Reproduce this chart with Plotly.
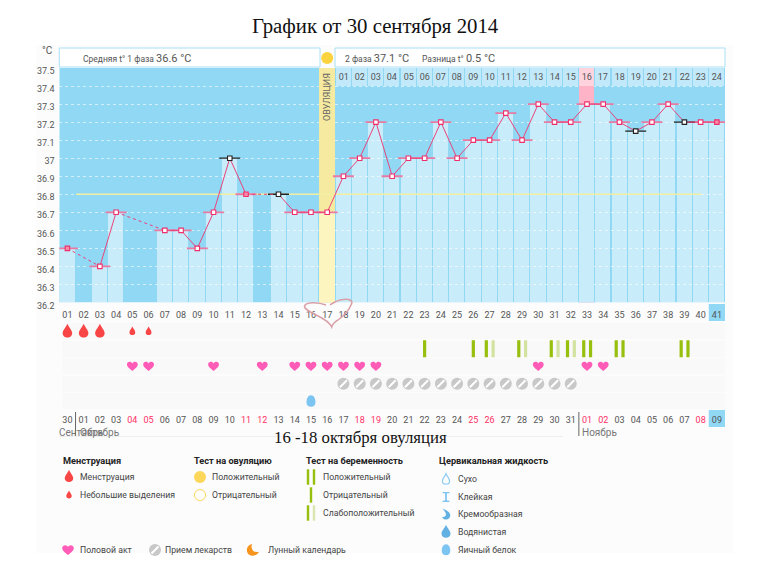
import plotly.graph_objects as go

# ---------- data ----------
days = list(range(1, 42))
temps = [36.5, None, 36.4, 36.7, None, None, 36.6, 36.6, 36.5, 36.7, 37.0, 36.8, None, 36.8, 36.7,
         36.7, 36.7, 36.9, 37.0, 37.2, 36.9, 37.0, 37.0, 37.2, 37.0, 37.1, 37.1, 37.25, 37.1, 37.3,
         37.2, 37.2, 37.3, 37.3, 37.2, 37.15, 37.2, 37.3, 37.2, 37.2, 37.2]
black_days = [11, 14, 36, 39]
filled_days = [1, 12, 41]
ovulation_day = 17
peak_day = 33
mean_level = 36.8
mean_from, mean_to = 1.53, 40.05
phase2_days = list(range(18, 42))
phase2_labels = [f"{i:02d}" for i in range(1, 25)]
day_labels = [f"{d:02d}" for d in days]
date_labels = ["30"] + [f"{d:02d}" for d in range(1, 32)] + [f"{d:02d}" for d in range(1, 10)]
red_dates = [5, 6, 12, 13, 19, 20, 26, 27, 33, 34, 40]
y_ticks = [36.2, 36.3, 36.4, 36.5, 36.6, 36.7, 36.8, 36.9, 37.0, 37.1, 37.2, 37.3, 37.4, 37.5]
y_labels = ["36.2", "36.3", "36.4", "36.5", "36.6", "36.7", "36.8", "36.9", "37", "37.1", "37.2", "37.3", "37.4", "37.5"]
menses_days = [1, 2, 3]
spotting_days = [5, 6]
test_single = [23, 26]
test_weak = [27, 29, 31, 32]
test_pair = [33, 35, 39]
sex_days = [5, 6, 10, 13, 15, 16, 17, 18, 19, 20, 30, 33, 34]
pill_days = list(range(18, 33))
egg_days = [16]
ROW_MENSES, ROW_TEST, ROW_SEX, ROW_PILL, ROW_FLUID = 1, 2, 3, 4, 5

# ---------- geometry / style ----------
W, H = 770, 565
BLUE = "#91d8f5"
BORDER = "#a9e0f6"
CELL = "rgba(255,255,255,0.51)"
PINK = "#e8447a"
TXT = "#555555"
SANS = "Roboto"
L, R = 59.3, 725.0
px = lambda v: v / W
py = lambda v: 1 - v / H

# ---------- glyph paths (pixels relative to the anchor, y up) ----------
def scaled(path, s):
    out = []
    for tok in path.split():
        try:
            out.append(f"{float(tok) * s:.2f}")
        except ValueError:
            out.append(tok)
    return " ".join(out)

DROP = "M 0 8 C 1.5 4 5 1.5 5 -2 C 5 -5 2.5 -6.5 0 -6.5 C -2.5 -6.5 -5 -5 -5 -2 C -5 1.5 -1.5 4 0 8 Z"
HEART = "M 0 -7 C -4 -3.5 -8 -1 -8 2.5 C -8 5.5 -5.5 6.5 -4 6.5 C -2 6.5 -0.8 5.5 0 4 C 0.8 5.5 2 6.5 4 6.5 C 5.5 6.5 8 5.5 8 2.5 C 8 -1 4 -3.5 0 -7 Z"
EGG = "M 0 6 C 3 6 4.5 2.5 4.5 -1 C 4.5 -4 2.5 -5.5 0 -5.5 C -2.5 -5.5 -4.5 -4 -4.5 -1 C -4.5 2.5 -3 6 0 6 Z"
MOON = "M -1 7 C -6 6 -8 2 -7 -2 C -6 -6 -1 -8 3 -6 C 5 -5 6 -4 7 -2 C 4 -3 0 -2 -1 1 C -2 3 -2 5 -1 7 Z"
SAND = "M -4 6 L 4 6 L 4 4.5 L 1 4.5 L 1 -4 L 4 -4.5 L 4 -6 L -4 -6 L -4 -4.5 L -1 -4 L -1 4.5 L -4 4.5 Z"
CREAM = "M -4 7 C 0 5 5 3 5 -1 C 5 -4 3 -6 0 -6 C -2 -6 -4 -5 -4.5 -3 C -2 -3 0 -2 0 0 C 0 3 -3 5 -4 7 Z"

def glyph(path, x, y, color, xref="x2", yref="y2", s=1.0, outline=None):
    d = dict(type="path", path=scaled(path, s), xref=xref, yref=yref,
             xsizemode="pixel", ysizemode="pixel", xanchor=x, yanchor=y,
             fillcolor=color if outline is None else "rgba(0,0,0,0)",
             line=dict(width=0 if outline is None else 1.2, color=outline or color))
    return d

fig = go.Figure()

# ---------- chart bars ----------
fig.add_bar(x=[ovulation_day], y=[37.5], width=1.0, marker=dict(color="#f5ea9f", line_width=0), yaxis="y", xaxis="x")
fig.add_bar(x=[peak_day], y=[37.4], width=0.94, marker=dict(color="#ffb3c6", line_width=0))
bar_days = [d for d, t in zip(days, temps) if t is not None]
bar_vals = [t for t in temps if t is not None]
bar_cols = ["#fdf5c0" if d == ovulation_day else ("#c9ecfb" if d == peak_day else CELL) for d in bar_days]
fig.add_bar(x=bar_days, y=bar_vals, width=[1.0 if d == ovulation_day else 0.93 for d in bar_days],
            marker=dict(color=bar_cols, line_width=0))
# header cells for second-phase day numbers
fig.add_bar(x=phase2_days, y=[0.1] * len(phase2_days), base=37.4, width=0.93,
            marker=dict(color=["#ffd3de" if d == peak_day else "#c2e9fa" for d in phase2_days], line_width=0),
            text=phase2_labels, textposition="inside", insidetextanchor="middle", textangle=0,
            insidetextfont=dict(family=SANS, size=9, color=TXT), constraintext="none")

# mean level
fig.add_scatter(x=[mean_from, mean_to], y=[mean_level, mean_level], mode="lines",
                line=dict(color="#f3eea0", width=1.5))

# caps
pink_days = [d for d, t in zip(days, temps) if t is not None and d not in black_days]
pink_vals = [temps[d - 1] for d in pink_days]
blk_vals = [temps[d - 1] for d in black_days]
fig.add_scatter(x=pink_days, y=pink_vals, mode="markers",
                marker=dict(symbol="line-ew", size=15, line=dict(width=1.8, color="#e97ba2")))
fig.add_scatter(x=black_days, y=blk_vals, mode="markers",
                marker=dict(symbol="line-ew", size=15, line=dict(width=1.3, color="#222222")))

# solid segments + dashed bridges
fig.add_scatter(x=days, y=temps, mode="lines", connectgaps=False, line=dict(color=PINK, width=1))
gap_x, gap_y, last = [], [], None
for d, t in zip(days, temps):
    if t is None:
        continue
    if last is not None and d - last > 1:
        gap_x += [last, d, None]
        gap_y += [temps[last - 1], t, None]
    last = d
fig.add_scatter(x=gap_x, y=gap_y, mode="lines", line=dict(color=PINK, width=1, dash="3px,3px"))

# points
fig.add_scatter(x=pink_days, y=pink_vals, mode="markers",
                marker=dict(symbol="square", size=4.5,
                            color=["#f58aa8" if d in filled_days else "white" for d in pink_days],
                            line=dict(width=1.1, color="#ee2f6b")))
fig.add_scatter(x=black_days, y=blk_vals, mode="markers",
                marker=dict(symbol="square", size=4.5, color="white", line=dict(width=1.1, color="#222222")))

# ---------- rows beneath the chart ----------
row_kw = dict(xaxis="x2", yaxis="y2", mode="markers")
fig.add_scatter(x=pill_days, y=[ROW_PILL] * len(pill_days), marker=dict(symbol="circle", size=12, color="#c8c8c8"), **row_kw)
fig.add_scatter(x=pill_days, y=[ROW_PILL] * len(pill_days),
                marker=dict(symbol="line-ne", size=7, line=dict(width=2, color="white")), **row_kw)
dark_x = test_single + [d - 0.2 for d in test_weak + test_pair] + [d + 0.22 for d in test_pair]
fig.add_scatter(x=dark_x, y=[ROW_TEST] * len(dark_x),
                marker=dict(symbol="line-ns", size=12, line=dict(width=3.2, color="#97bf0d")), **row_kw)
light_x = [d + 0.22 for d in test_weak]
fig.add_scatter(x=light_x, y=[ROW_TEST] * len(light_x),
                marker=dict(symbol="line-ns", size=12, line=dict(width=3.2, color="#d2e3a0")), **row_kw)

shapes = []
# page wash, plot background
shapes.append(dict(type="rect", xref="paper", yref="paper", x0=px(36), x1=px(733), y0=py(45), y1=py(553),
                   fillcolor="#fcfcfc", line_width=0, layer="below"))
for r in range(1, 6):
    shapes.append(dict(type="rect", xref="x2", yref="y2", x0=0.7, x1=41.5, y0=r - 0.46, y1=r + 0.46,
                       fillcolor="#f9f9f9", line_width=0, layer="below"))
shapes.append(dict(type="rect", xref="x", yref="y", x0=0.5, x1=41.5, y0=36.2, y1=37.5,
                   fillcolor=BLUE, line_width=0, layer="below"))
# blue cells behind 41 / 09
shapes.append(dict(type="rect", xref="x", yref="paper", x0=40.5, x1=41.5, y0=py(321), y1=py(304),
                   fillcolor=BLUE, line_width=0, layer="below"))
shapes.append(dict(type="rect", xref="x", yref="paper", x0=40.5, x1=41.5, y0=py(427), y1=py(410),
                   fillcolor=BLUE, line_width=0, layer="below"))
# header boxes
for x0, x1 in [(L, 320), (335, R)]:
    shapes.append(dict(type="rect", xref="paper", yref="paper", x0=px(x0), x1=px(x1), y0=py(67), y1=py(48),
                       fillcolor="white", line=dict(width=1, color=BORDER), layer="below"))
# month separators & rule
for d in (1.5, 32.5):
    shapes.append(dict(type="line", xref="x", yref="paper", x0=d, x1=d, y0=py(436), y1=py(412),
                       line=dict(width=1, color="#666666")))
shapes.append(dict(type="line", xref="paper", yref="paper", x0=px(60), x1=px(563), y0=py(436.5), y1=py(436.5),
                   line=dict(width=1, color="#efefef"), layer="below"))
# row glyphs
for d in menses_days:
    shapes.append(glyph(DROP, d, ROW_MENSES, "#f84545", s=0.95))
for d in spotting_days:
    shapes.append(glyph(DROP, d, ROW_MENSES, "#f84545", s=0.58))
for d in sex_days:
    shapes.append(glyph(HEART, d, ROW_SEX, "#ff5cb8", s=0.68))
for d in egg_days:
    shapes.append(glyph(EGG, d, ROW_FLUID, "#7cc4f2"))
# ovulation sun in the header gap
shapes.append(dict(type="circle", xref="x", yref="paper", xsizemode="pixel", xanchor=ovulation_day,
                   x0=-6, x1=6, ysizemode="pixel", yanchor=py(58), y0=-6, y1=6,
                   fillcolor="#fbd33f", line_width=0))
# hand-drawn heart
heart_segments = [
    [(333, 303), (338, 300), (343, 299.5)],
    [(350, 298.5), (353, 301), (351.5, 304)],
    [(349.5, 309), (345, 315), (338, 320)],
    [(335, 322), (332.5, 324), (331.7, 327)],
    [(329, 321), (322, 318), (316, 315)],
    [(310, 312), (304, 309), (304.5, 306)],
    [(306, 302.5), (312, 302.5), (317, 303)],
    [(320, 303.2), (323, 304), (326, 305)],
]
heart_path = f"M {px(330):.5f},{py(305):.5f} " + " ".join(
    "C " + " ".join(f"{px(a):.5f},{py(b):.5f}" for a, b in seg) for seg in heart_segments)
shapes.append(dict(type="path", xref="paper", yref="paper", path=heart_path,
                   line=dict(width=1.5, color="#d9a0a8")))

# ---------- legend glyphs, on a full-page pixel axis ----------
leg = dict(xref="x3", yref="y3")
shapes += [
    glyph(DROP, 69, 476.5, "#f84545", s=0.85, **leg),
    glyph(DROP, 69, 495, "#f84545", s=0.55, **leg),
    glyph(HEART, 68, 550, "#ff5cb8", s=0.72, **leg),
    glyph(MOON, 253, 550, "#f6941d", s=0.85, **leg),
    glyph(DROP, 446, 479.5, "#8fcdf5", s=0.72, outline="#8fcdf5", **leg),
    glyph(SAND, 446, 497, "#7cc4f2", s=0.85, **leg),
    glyph(CREAM, 446, 514.5, "#63b1e3", s=0.85, **leg),
    glyph(DROP, 446, 532, "#63b1e3", s=0.9, **leg),
    glyph(EGG, 446, 550, "#7cc4f2", s=0.95, **leg),
]
fig.add_scatter(x=[200], y=[477], xaxis="x3", yaxis="y3", mode="markers",
                marker=dict(symbol="circle", size=12, color="#fdd75a", line=dict(width=0)))
fig.add_scatter(x=[200], y=[495], xaxis="x3", yaxis="y3", mode="markers",
                marker=dict(symbol="circle", size=11, color="white", line=dict(width=1, color="#fbd75a")))
fig.add_scatter(x=[155], y=[550], xaxis="x3", yaxis="y3", mode="markers",
                marker=dict(symbol="circle", size=12, color="#c8c8c8"))
fig.add_scatter(x=[155], y=[550], xaxis="x3", yaxis="y3", mode="markers",
                marker=dict(symbol="line-ne", size=7, line=dict(width=2, color="white")))
leg_dark = [(308, 477), (314, 477), (311, 495), (308, 513)]
fig.add_scatter(x=[p[0] for p in leg_dark], y=[p[1] for p in leg_dark], xaxis="x3", yaxis="y3", mode="markers",
                marker=dict(symbol="line-ns", size=11, line=dict(width=2.4, color="#97bf0d")))
fig.add_scatter(x=[314], y=[513], xaxis="x3", yaxis="y3", mode="markers",
                marker=dict(symbol="line-ns", size=11, line=dict(width=2.4, color="#d9e7ae")))

# ---------- text ----------
def note(x, y, text, size=8.7, color="#444444", family=SANS, anchor="left", angle=0):
    x = x - 1.5 if anchor == "left" else x
    return dict(xref="paper", yref="paper", x=px(x), y=py(y), text=text, showarrow=False, xanchor=anchor,
                yanchor="middle", textangle=angle, borderpad=0, font=dict(family=family, size=size, color=color))

big = lambda s: f'<span style="font-size:11px">{s}</span>'
anns = [
    note(375, 26, "График от 30 сентября 2014", size=20.8, color="#111111", family="Liberation Serif", anchor="center"),
    note(47, 50, "°C", size=10, color=TXT, anchor="center"),
    note(83, 58, "Средняя t° 1 фаза " + big("36.6 °C"), size=8.5, color=TXT),
    note(345, 58, "2 фаза " + big("37.1 °C"), size=8.5, color=TXT),
    note(422, 58, "Разница t° " + big("0.5 °C"), size=8.5, color=TXT),
    note(327, 97, "ОВУЛЯЦИЯ", size=9, color="#666666", anchor="center", angle=-90),
    note(360, 437, "16 -18 октября овуляция", size=16.8, color="#111111", family="Liberation Serif", anchor="center"),
    note(59, 432, "Сентябрь", size=10, color="#777777"),
    note(80, 432, "Октябрь", size=10, color="#777777"),
    note(582, 432, "Ноябрь", size=10, color="#777777"),
    note(63, 460, "<b>Менструация</b>", size=9.2, color="#222222"),
    note(194, 460, "<b>Тест на овуляцию</b>", size=9.2, color="#222222"),
    note(306, 460, "<b>Тест на беременность</b>", size=9.2, color="#222222"),
    note(439, 460, "<b>Цервикальная жидкость</b>", size=9.2, color="#222222"),
    note(80, 477, "Менструация"),
    note(80, 495, "Небольшие выделения"),
    note(212, 477, "Положительный"),
    note(212, 495, "Отрицательный"),
    note(323, 477, "Положительный"),
    note(323, 495, "Отрицательный"),
    note(323, 513, "Слабоположительный"),
    note(458, 479, "Сухо"),
    note(458, 497, "Клейкая"),
    note(458, 514, "Кремообразная"),
    note(458, 532, "Водянистая"),
    note(458, 550, "Яичный белок"),
    note(80, 550, "Половой акт"),
    note(165, 550, "Прием лекарств"),
    note(268, 550, "Лунный календарь"),
]

date_text = [f'<span style="color:#ff2f66">{t}</span>' if d in red_dates else t for d, t in zip(days, date_labels)]

fig.update_layout(
    width=W, height=H, margin=dict(l=0, r=0, t=0, b=0, autoexpand=False), autosize=False,
    paper_bgcolor="white", plot_bgcolor="rgba(0,0,0,0)", showlegend=False,
    barmode="overlay", bargap=0, shapes=shapes, annotations=anns,
    font=dict(family=SANS, size=9, color=TXT),
    xaxis=dict(domain=[px(L), px(R)], range=[0.5, 41.5], tickmode="array", tickvals=days, ticktext=day_labels,
               showgrid=False, zeroline=False, showline=False, ticks="outside", ticklen=4, tickcolor="rgba(0,0,0,0)",
               tickfont=dict(family=SANS, size=9, color=TXT), anchor="y"),
    yaxis=dict(domain=[py(302.5), py(68)], range=[36.2, 37.5], tickmode="array", tickvals=y_ticks, ticktext=y_labels,
               showgrid=True, gridcolor="rgba(255,255,255,0.6)", griddash="dot", gridwidth=1, zeroline=False,
               showline=False, ticks="outside", ticklen=2, tickcolor="rgba(0,0,0,0)", ticklabelshift=3,
               tickfont=dict(family=SANS, size=9, color=TXT), anchor="x"),
    xaxis2=dict(domain=[px(L), px(R)], range=[0.5, 41.5], tickmode="array", tickvals=days, ticktext=date_text,
                showgrid=False, zeroline=False, showline=False, ticks="outside", ticklen=1, tickcolor="rgba(0,0,0,0)",
                tickfont=dict(family=SANS, size=9, color=TXT), anchor="y2"),
    yaxis2=dict(domain=[py(410), py(322.5)], range=[5.5, 0.5], visible=False, anchor="x2"),
    xaxis3=dict(domain=[0, 1], range=[0, W], visible=False, anchor="y3"),
    yaxis3=dict(domain=[0, 1], range=[H, 0], visible=False, anchor="x3"),
)

fig.write_html("out.html", config={"displayModeBar": False},
               post_script="document.body.style.margin='0';document.body.style.overflow='hidden';")
